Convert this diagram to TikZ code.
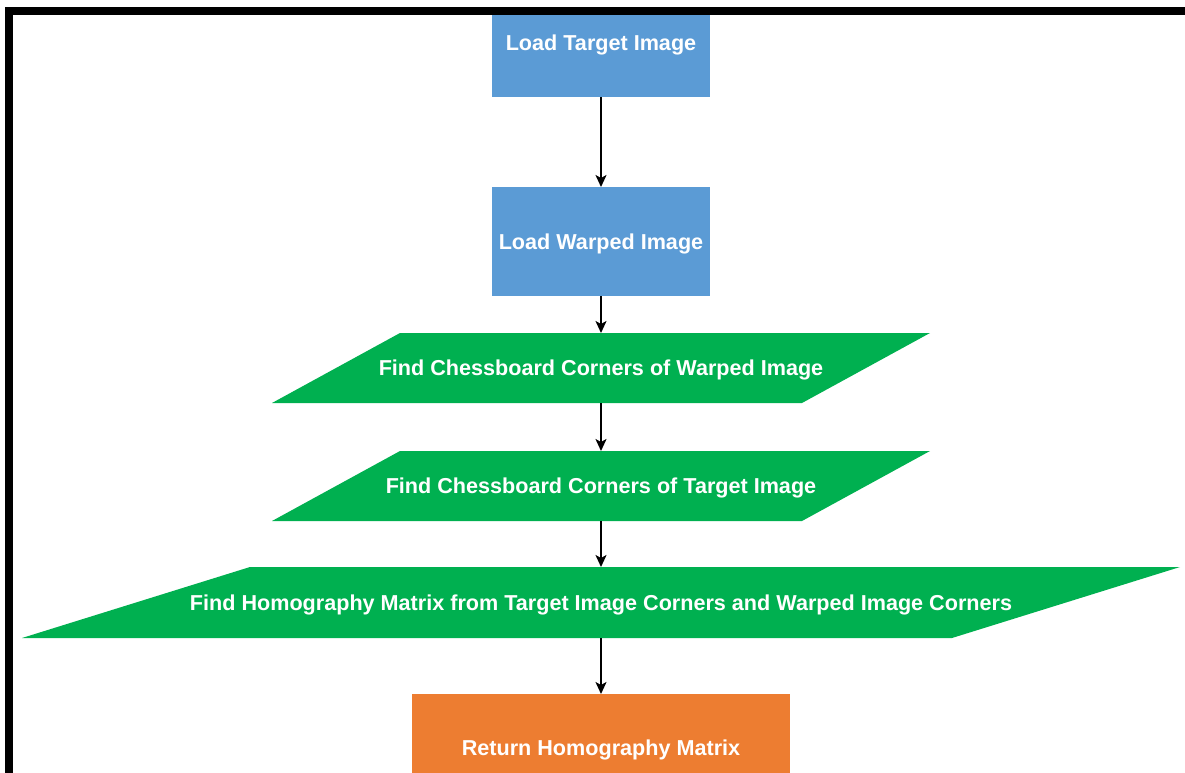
\documentclass[tikz,border=0pt]{standalone}
\usepackage{fontspec}
\setmainfont{Liberation Sans}
\usetikzlibrary{arrows.meta}
\definecolor{stepblue}{HTML}{5B9BD5}
\definecolor{stepgreen}{HTML}{00B050}
\definecolor{steporange}{HTML}{ED7D31}
\tikzset{
  lbl/.style={text=white, font=\fontsize{21.6}{26}\selectfont\bfseries, inner sep=0pt, outer sep=0pt, text depth=0pt},
  bluebox/.style={lbl, fill=stepblue, minimum width=218pt},
  orangebox/.style={lbl, fill=steporange, minimum width=378pt, minimum height=108pt},
  parabox/.style={lbl,
    path picture={\fill[stepgreen]
      ([xshift=#1]path picture bounding box.north west) --
      (path picture bounding box.north east) --
      ([xshift=-#1]path picture bounding box.south east) --
      (path picture bounding box.south west) -- cycle;}},
  flow/.style={line width=1.8pt, -{Stealth[length=12pt,width=11pt,inset=3pt]}},
}
\begin{document}
\begin{tikzpicture}[x=1pt, y=-1pt]
  \useasboundingbox (0,0) rectangle (1185,773);
  \begin{scope}
  \clip (13,15) rectangle (1185,773);

  % process steps
  \node[bluebox, minimum height=108pt] (load1) at (601,43) {Load Target Image};
  \node[bluebox, minimum height=109pt] (load2) at (601,241.5) {Load Warped Image};
  \node[parabox=128pt, minimum width=658pt, minimum height=70pt] (find1) at (601,368) {Find Chessboard Corners of Warped Image};
  \node[parabox=128pt, minimum width=658pt, minimum height=70pt] (find2) at (601,486) {Find Chessboard Corners of Target Image};
  \node[parabox=228pt, minimum width=1158pt, minimum height=71pt] (homog) at (601,602.5) {Find Homography Matrix from Target Image Corners and Warped Image Corners};
  \node[orangebox] (ret) at (601,748) {Return Homography Matrix};

  % connectors
  \draw[flow] (load1) -- (load2);
  \draw[flow] (load2) -- (find1);
  \draw[flow] (find1) -- (find2);
  \draw[flow] (find2) -- (homog);
  \draw[flow] (homog) -- (ret);
  \end{scope}

  % frame on the top and left edges
  \fill[black] (5,7) rectangle (1185,15);
  \fill[black] (5,7) rectangle (13,773);
\end{tikzpicture}
\end{document}
